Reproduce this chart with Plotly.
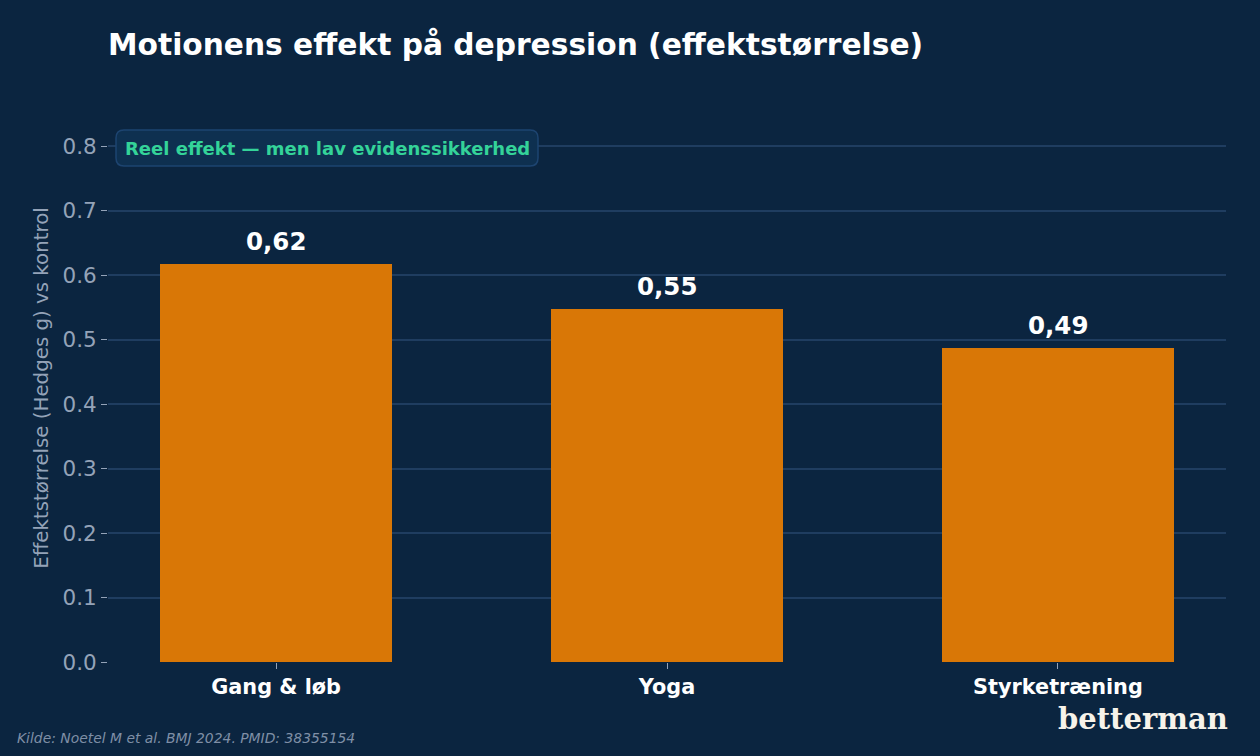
import plotly.graph_objects as go

categories = ["Gang & løb", "Yoga", "Styrketræning"]
values = [0.617, 0.547, 0.487]
value_labels = ["0,62", "0,55", "0,49"]
y_ticks = [0.0, 0.1, 0.2, 0.3, 0.4, 0.5, 0.6, 0.7, 0.8]

BG = "#0b2540"
GRID = "#1f3d60"
BAR = "#d97706"
TICK = "#94a3b8"

L, R, T, B = 108, 34, 114, 94
pw = 1260 - L - R
ph = 756 - T - B


def px(xp):
    return (xp - L) / pw


def py(yp):
    return (756 - B - yp) / ph


fig = go.Figure()
fig.add_trace(go.Bar(
    x=list(range(len(categories))), y=values, width=0.594,
    marker=dict(color=BAR, line=dict(width=0)),
    hoverinfo="skip",
))

for i, (v, lab) in enumerate(zip(values, value_labels)):
    fig.add_annotation(x=i, y=v, text=f"<b>{lab}</b>", showarrow=False,
                       yanchor="bottom", yshift=6,
                       font=dict(family="DejaVu Sans", size=24.5, color="#ffffff"))

# callout box with rounded corners
x0, x1 = px(116), px(538)
y0, y1 = py(166), py(130)
rx, ry = 8 / pw, 8 / ph
path = (f"M {x0+rx},{y0} L {x1-rx},{y0} Q {x1},{y0} {x1},{y0+ry} "
        f"L {x1},{y1-ry} Q {x1},{y1} {x1-rx},{y1} L {x0+rx},{y1} "
        f"Q {x0},{y1} {x0},{y1-ry} L {x0},{y0+ry} Q {x0},{y0} {x0+rx},{y0} Z")
fig.add_shape(type="path", path=path, xref="paper", yref="paper",
              fillcolor="#0e3050", line=dict(color="#1d4470", width=1.5), layer="above")
fig.add_annotation(x=px(123), y=(y0 + y1) / 2, xref="paper", yref="paper",
                   text="<b>Reel effekt — men lav evidenssikkerhed</b>", showarrow=False,
                   xanchor="left", yanchor="middle",
                   font=dict(family="DejaVu Sans", size=18, color="#34d399"))

fig.update_layout(
    width=1260, height=756,
    margin=dict(l=L, r=R, t=T, b=B),
    paper_bgcolor=BG, plot_bgcolor=BG,
    showlegend=False,
    title=dict(text="<b>Motionens effekt på depression (effektstørrelse)</b>",
               x=L / 1260, xanchor="left", y=1 - 45 / 756, yanchor="middle",
               font=dict(family="DejaVu Sans", size=29.7, color="#ffffff")),
    bargap=0,
)

fig.update_xaxes(
    range=[-0.43, 2.43], tickmode="array", tickvals=list(range(len(categories))),
    ticktext=[f"<b>{c}</b>" for c in categories],
    tickfont=dict(family="DejaVu Sans", size=20.8, color="#ffffff"),
    ticks="outside", ticklen=6, tickcolor=TICK, tickwidth=1,
    showgrid=False, zeroline=False, showline=False,
)
fig.update_yaxes(
    range=[0, 0.85], tickmode="array", tickvals=y_ticks,
    ticktext=[f"{t:.1f}" for t in y_ticks],
    tickfont=dict(family="DejaVu Sans", size=21.5, color=TICK),
    ticks="outside", ticklen=6, tickcolor=TICK, tickwidth=1,
    showgrid=True, gridcolor=GRID, gridwidth=1.5,
    zeroline=False, showline=False,
    title=dict(text="Effektstørrelse (Hedges g) vs kontrol", standoff=8,
               font=dict(family="DejaVu Sans", size=19.8, color=TICK)),
)

fig.add_annotation(x=px(15), y=py(738), xref="paper", yref="paper",
                   text="<i>Kilde: Noetel M et al. BMJ 2024. PMID: 38355154</i>",
                   showarrow=False, xanchor="left", yanchor="middle",
                   font=dict(family="DejaVu Sans", size=13.9, color="#7f8fa6"))
fig.add_annotation(x=px(1230), y=py(719), xref="paper", yref="paper",
                   text="<b>betterman</b>", showarrow=False,
                   xanchor="right", yanchor="middle",
                   font=dict(family="DejaVu Serif", size=29, color="#f7f3ea"))

fig.write_html("out.html")
